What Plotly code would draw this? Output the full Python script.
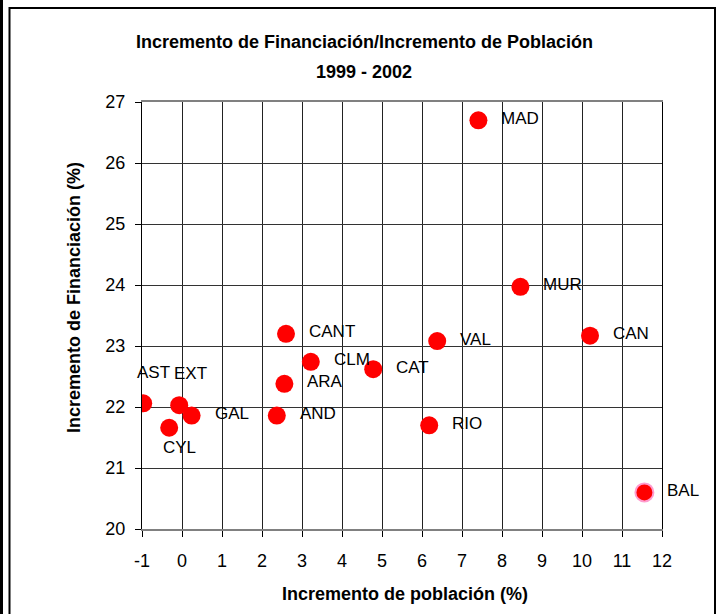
import plotly.graph_objects as go

# ---- data ----
regions = ["AST", "EXT", "CYL", "GAL", "AND", "ARA", "CANT", "CLM", "CAT",
           "VAL", "RIO", "MUR", "CAN", "MAD", "BAL"]
pop_increase = [-0.97, -0.07, -0.32, 0.24, 2.37, 2.56, 2.60, 3.22, 4.78,
                6.38, 6.18, 8.46, 10.20, 7.41, 11.56]
fin_increase = [22.06, 22.03, 21.66, 21.86, 21.86, 22.38, 23.20, 22.74, 22.62,
                23.08, 21.70, 23.97, 23.17, 26.70, 20.60]
x_ticks = list(range(-1, 13))
y_ticks = list(range(20, 28))

# ---- label placement (style) ----
label_offsets = {
    "AST": ("center", 10, 31), "EXT": ("center", 11, 32), "CYL": ("center", 10, -20),
}
default_offset = ("left", 21, 2)

W, H = 718, 614
L, R, T, B = 142, 56, 102, 85
PW, PH = W - L - R, H - T - B


def xp(px):
    return (px - L) / PW


def yp(py):
    return (H - B - py) / PH


FONT = "Arial, Liberation Sans, sans-serif"

marker_line_colors = ["#ff9ccf" if r == "BAL" else "rgba(0,0,0,0)" for r in regions]

fig = go.Figure()
fig.add_trace(go.Scatter(
    x=pop_increase, y=fin_increase, mode="markers",
    marker=dict(color="#ff0000", size=18,
                line=dict(color=marker_line_colors, width=2)),
    hoverinfo="skip", showlegend=False,
))

annotations = []
for r, x, y in zip(regions, pop_increase, fin_increase):
    anchor, dx, dy = label_offsets.get(r, default_offset)
    annotations.append(dict(
        x=x, y=y, xref="x", yref="y", text=r, showarrow=False,
        xanchor=anchor, yanchor="middle", xshift=dx, yshift=dy,
        font=dict(family=FONT, size=17, color="#000000"),
    ))

annotations += [
    dict(x=xp(364), y=yp(42), xref="paper", yref="paper", showarrow=False,
         text="<b>Incremento de Financiación/Incremento de Población</b>",
         xanchor="center", yanchor="middle",
         font=dict(family=FONT, size=18, color="#000000")),
    dict(x=xp(364), y=yp(72), xref="paper", yref="paper", showarrow=False,
         text="<b>1999 - 2002</b>", xanchor="center", yanchor="middle",
         font=dict(family=FONT, size=18, color="#000000")),
    dict(x=xp(405), y=yp(594), xref="paper", yref="paper", showarrow=False,
         text="<b>Incremento de población (%)</b>", xanchor="center", yanchor="middle",
         font=dict(family=FONT, size=18, color="#000000")),
    dict(x=xp(74), y=yp(298), xref="paper", yref="paper", showarrow=False,
         text="<b>Incremento de Financiación (%)</b>", textangle=-90,
         xanchor="center", yanchor="middle",
         font=dict(family=FONT, size=18, color="#000000")),
]

shapes = [
    dict(type="rect", xref="paper", yref="paper",
         x0=xp(9.5), x1=xp(715), y0=yp(8), y1=yp(640),
         line=dict(color="#000000", width=2), layer="below"),
    dict(type="line", xref="paper", yref="paper",
         x0=xp(1.5), x1=xp(1.5), y0=yp(-5), y1=yp(640),
         line=dict(color="#000000", width=3), layer="below"),
]

fig.update_layout(
    width=W, height=H,
    margin=dict(l=L, r=R, t=T, b=B, pad=0),
    paper_bgcolor="#ffffff", plot_bgcolor="#ffffff",
    font=dict(family=FONT, size=18, color="#000000"),
    annotations=annotations, shapes=shapes,
    xaxis=dict(range=[-1, 12], tickvals=x_ticks, ticktext=[str(v) for v in x_ticks],
               showgrid=True, gridcolor="#222222", gridwidth=1, zeroline=False,
               showline=True, linecolor="#808080", linewidth=2, mirror=True,
               ticks="outside", ticklen=6, tickcolor="#000000",
               tickfont=dict(family=FONT, size=18), ticklabelstandoff=8),
    yaxis=dict(range=[20, 27], tickvals=y_ticks, ticktext=[str(v) for v in y_ticks],
               showgrid=True, gridcolor="#333333", gridwidth=1, zeroline=False,
               showline=True, linecolor="#000000", linewidth=1, mirror=True,
               ticks="outside", ticklen=6, tickcolor="#000000",
               tickfont=dict(family=FONT, size=18), ticklabelstandoff=6),
)

fig.write_html(
    "out.html",
    config={"displayModeBar": False},
    post_script="document.body.style.margin='0';document.body.style.overflow='hidden';",
)
